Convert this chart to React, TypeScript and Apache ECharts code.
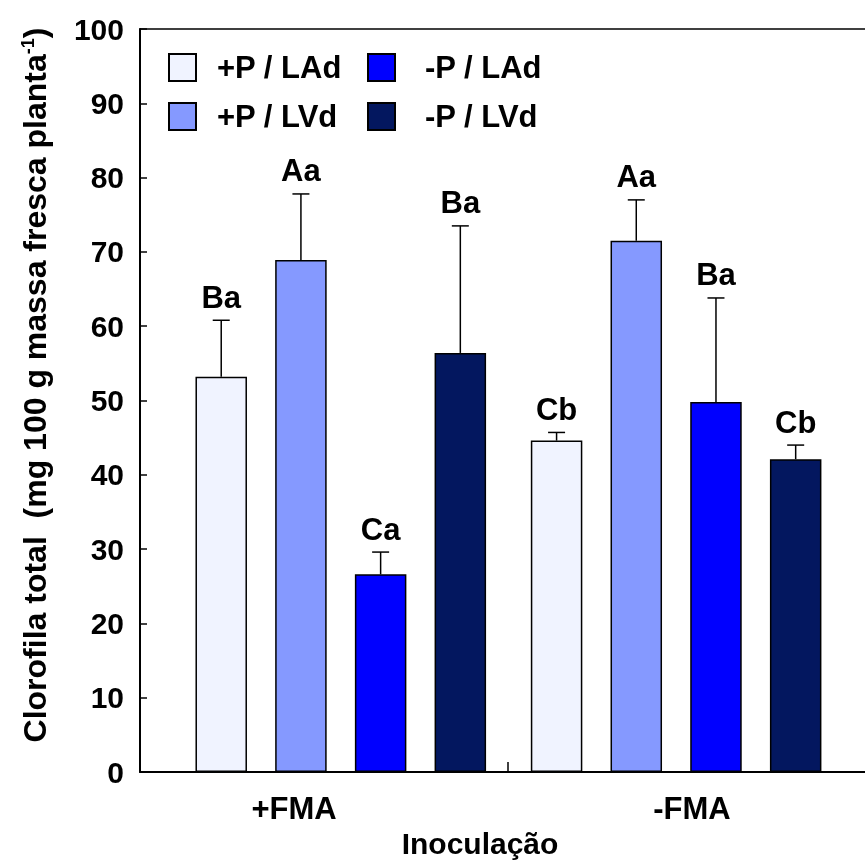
import React, { useEffect, useRef } from "react";
import * as echarts from "echarts";

// ---- data ----
const categories = ["+FMA", "-FMA"];
const seriesNames = ["+P / LAd", "+P / LVd", "-P / LAd", "-P / LVd"];
const seriesColors = ["#F0F3FF", "#8599FF", "#0000FF", "#03175F"];

const plusP_LAd = [53.2, 44.6];
const plusP_LVd = [68.9, 71.5];
const minusP_LAd = [26.6, 49.8];
const minusP_LVd = [56.4, 42.1];

const errPlusP_LAd = [7.6, 1.1];
const errPlusP_LVd = [8.9, 5.5];
const errMinusP_LAd = [3.0, 14.0];
const errMinusP_LVd = [17.1, 1.9];

const letPlusP_LAd = ["Ba", "Cb"];
const letPlusP_LVd = ["Aa", "Aa"];
const letMinusP_LAd = ["Ca", "Ba"];
const letMinusP_LVd = ["Ba", "Cb"];

const yTicks = { min: 0, max: 100, interval: 10 };

const means = [plusP_LAd, plusP_LVd, minusP_LAd, minusP_LVd];
const errs = [errPlusP_LAd, errPlusP_LVd, errMinusP_LAd, errMinusP_LVd];
const letters = [letPlusP_LAd, letPlusP_LVd, letMinusP_LAd, letMinusP_LVd];

// ---- style constants ----
const FONT = '"Liberation Sans", Arial, Helvetica, sans-serif';
const BAR_W = 51.5;
const BAR_GAP = 28.2;
const CAP_W = 17;

export default function App() {
  const ref = useRef<HTMLDivElement>(null);

  useEffect(() => {
    if (!ref.current) return;
    const chart = echarts.init(ref.current, null, { renderer: "svg" });

    const errData: number[][] = [];
    const errLetters: string[] = [];
    means.forEach((arr, k) => {
      arr.forEach((v, c) => {
        errData.push([c, v, errs[k][c], k]);
        errLetters.push(letters[k][c]);
      });
    });

    const barSeries = seriesNames.map((name, k) => ({
      name,
      type: "bar",
      xAxisIndex: 2,
      yAxisIndex: 1,
      data: means[k],
      barWidth: BAR_W,
      barGap: `${(BAR_GAP / BAR_W) * 100}%`,
      itemStyle: {
        color: seriesColors[k],
        borderColor: "#000",
        borderWidth: 1.5,
      },
      emphasis: { disabled: true },
    }));

    const legendText = {
      fontSize: 31,
      fontWeight: "bold",
      color: "#000",
      fontFamily: FONT,
      lineHeight: 27,
    };

    const option: any = {
      animation: false,
      legend: [
        {
          data: [seriesNames[0], seriesNames[1]],
          orient: "vertical",
          left: 168,
          top: 52,
          padding: 0,
          itemWidth: 27,
          itemHeight: 27,
          itemGap: 18,
          icon: "rect",
          selectedMode: false,
          textStyle: { ...legendText, padding: [0, 0, 0, 16] },
        },
        {
          data: [seriesNames[2], seriesNames[3]],
          orient: "vertical",
          left: 367,
          top: 52,
          padding: 0,
          itemWidth: 27,
          itemHeight: 27,
          itemGap: 18,
          icon: "rect",
          selectedMode: false,
          textStyle: { ...legendText, padding: [0, 0, 0, 25] },
        },
      ],
      grid: [
        { left: 140, right: -11, top: 29, bottom: 89, outerBoundsMode: "none" },
        { left: 173.1, right: 21.2, top: 29, bottom: 89, outerBoundsMode: "none" },
      ],
      xAxis: [
        {
          type: "category",
          gridIndex: 0,
          data: [
            { value: categories[0], textStyle: { padding: [0, 60, 0, 0] } },
            categories[1],
          ],
          boundaryGap: true,
          axisLine: { lineStyle: { color: "#000", width: 2 } },
          axisTick: {
            show: true,
            inside: true,
            length: 10,
            lineStyle: { color: "#000", width: 1.5 },
          },
          axisLabel: {
            show: true,
            margin: 21,
            fontSize: 31,
            fontWeight: "bold",
            color: "#000",
            fontFamily: FONT,
          },
          splitLine: { show: false },
        },
        {
          type: "category",
          gridIndex: 0,
          position: "top",
          data: categories,
          axisLine: { lineStyle: { color: "#000", width: 1.5 } },
          axisTick: { show: false },
          axisLabel: { show: false },
          splitLine: { show: false },
        },
        {
          type: "category",
          gridIndex: 1,
          data: categories,
          show: false,
        },
      ],
      yAxis: [
        {
          type: "value",
          gridIndex: 0,
          min: yTicks.min,
          max: yTicks.max,
          interval: yTicks.interval,
          axisLine: { show: true, lineStyle: { color: "#000", width: 2 } },
          axisTick: {
            show: true,
            inside: true,
            length: 7,
            lineStyle: { color: "#000", width: 1.5 },
          },
          axisLabel: {
            margin: 16,
            fontSize: 30,
            fontWeight: "bold",
            color: "#000",
            fontFamily: FONT,
          },
          splitLine: { show: false },
        },
        {
          type: "value",
          gridIndex: 1,
          min: yTicks.min,
          max: yTicks.max,
          interval: yTicks.interval,
          show: false,
          splitLine: { show: false },
        },
      ],
      series: [
        ...barSeries,
        {
          type: "custom",
          name: "errors",
          xAxisIndex: 2,
          yAxisIndex: 1,
          clip: false,
          data: errData,
          z: 5,
          renderItem: (params: any, api: any) => {
            const c = api.value(0);
            const v = api.value(1);
            const e = api.value(2);
            const k = api.value(3);
            const total = 4 * BAR_W + 3 * BAR_GAP;
            const base = api.coord([c, v]);
            const cap = api.coord([c, v + e]);
            const cx = base[0] - total / 2 + BAR_W / 2 + k * (BAR_W + BAR_GAP);
            return {
              type: "group",
              children: [
                {
                  type: "line",
                  shape: { x1: cx, y1: base[1], x2: cx, y2: cap[1] },
                  style: { stroke: "#000", lineWidth: 1.5 },
                },
                {
                  type: "line",
                  shape: { x1: cx - CAP_W / 2, y1: cap[1], x2: cx + CAP_W / 2, y2: cap[1] },
                  style: { stroke: "#000", lineWidth: 1.5 },
                },
                {
                  type: "text",
                  x: cx,
                  y: cap[1] - 23,
                  style: {
                    text: errLetters[params.dataIndex],
                    fill: "#000",
                    fontSize: 31,
                    fontWeight: "bold",
                    fontFamily: FONT,
                    align: "center",
                    verticalAlign: "middle",
                  },
                },
              ],
            };
          },
        },
      ],
      graphic: [
        {
          type: "text",
          x: 35,
          y: 385,
          rotation: Math.PI / 2,
          style: {
            text: "{a|Clorofila total  (mg 100 g massa fresca planta}{s|-1}{a|)}",
            align: "center",
            verticalAlign: "middle",
            rich: {
              a: { fontSize: 32, fontWeight: "bold", fontFamily: FONT, fill: "#000" },
              s: {
                fontSize: 18,
                fontWeight: "bold",
                fontFamily: FONT,
                fill: "#000",
                verticalAlign: "top",
              },
            },
          },
        },
        {
          type: "text",
          x: 480,
          y: 843,
          style: {
            text: "Inoculação",
            fill: "#000",
            fontSize: 30,
            fontWeight: "bold",
            fontFamily: FONT,
            align: "center",
            verticalAlign: "middle",
          },
        },
      ],
    };

    chart.setOption(option);
    return () => chart.dispose();
  }, []);

  return (
    <div
      ref={ref}
      style={{ position: "fixed", left: 0, top: 0, width: 865, height: 861 }}
    />
  );
}
